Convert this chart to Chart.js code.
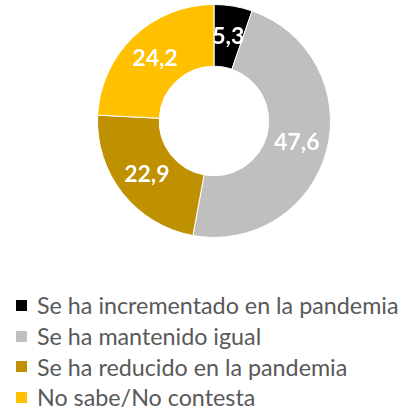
<!DOCTYPE html>
<html>
<head>
<meta charset="utf-8">
<script src="https://cdn.jsdelivr.net/npm/chart.js@4.4.0/dist/chart.umd.min.js"></script>
<style>
  html, body { margin: 0; padding: 0; background: #fff; }
  #wrap { position: relative; width: 419px; height: 412px; overflow: hidden; }
  #chartBox { position: absolute; left: 0; top: 0; width: 419px; height: 250px; }
  #legend { position: absolute; left: 16px; top: 290px; margin: 0; padding: 0; list-style: none;
            font-family: Lato, "Open Sans", sans-serif; font-size: 23.3px; color: #595959; }
  #legend li { height: 30.8px; line-height: 30.8px; white-space: nowrap; display: flex; align-items: center; }
  #legend .sw { display: inline-block; width: 11px; height: 11px; margin-right: 10px; }
</style>
</head>
<body>
<div id="wrap">
  <div id="chartBox"><canvas id="donut"></canvas></div>
  <ul id="legend"></ul>
</div>
<script>
// Datos
const categorias = [
    'Se ha incrementado en la pandemia',
    'Se ha mantenido igual',
    'Se ha reducido en la pandemia',
    'No sabe/No contesta'
];
const valores = [5.3, 47.6, 22.9, 24.2];
const colores = ['#000000', '#BFBFBF', '#BF9000', '#FFC000'];

// Etiquetas de valor en blanco sobre cada sector
const valueLabels = {
    id: 'valueLabels',
    afterDatasetsDraw(chart) {
        const { ctx } = chart;
        const meta = chart.getDatasetMeta(0);
        ctx.save();
        ctx.font = 'bold 23px Lato, "Open Sans", sans-serif';
        ctx.fillStyle = '#ffffff';
        ctx.textAlign = 'center';
        ctx.textBaseline = 'middle';
        meta.data.forEach((arc, i) => {
            const p = arc.tooltipPosition();
            const txt = valores[i].toFixed(1).replace('.', ',');
            ctx.fillText(txt, p.x, p.y);
        });
        ctx.restore();
    }
};

new Chart(document.getElementById('donut'), {
    type: 'doughnut',
    data: {
        labels: categorias,
        datasets: [{
            data: valores,
            backgroundColor: colores,
            borderColor: '#ffffff',
            borderWidth: 1
        }]
    },
    options: {
        responsive: true,
        maintainAspectRatio: false,
        animation: false,
        cutout: '47%',
        layout: { padding: { left: 9, right: 0, top: 4, bottom: 12 } },
        plugins: {
            legend: { display: false },
            tooltip: { enabled: false }
        }
    },
    plugins: [valueLabels]
});

// Leyenda HTML, una fila por categoría
const legendEl = document.getElementById('legend');
categorias.forEach((c, i) => {
    const li = document.createElement('li');
    li.innerHTML = `<span class="sw" style="background:${colores[i]}"></span><span>${c}</span>`;
    legendEl.appendChild(li);
});
</script>
</body>
</html>
